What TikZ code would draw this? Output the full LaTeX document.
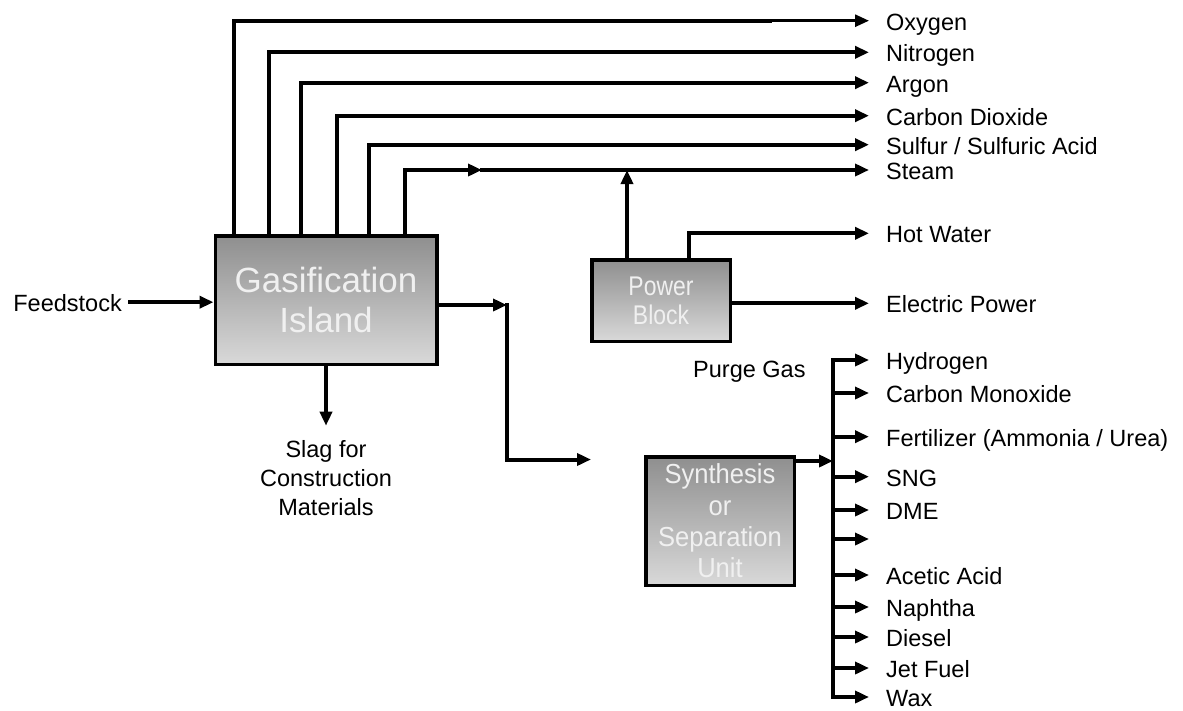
\documentclass[tikz,border=0pt]{standalone}
\usepackage{fontspec}
\setmainfont{Liberation Sans}
\newfontfamily\narrowsans[FakeStretch=0.85]{Liberation Sans}
\newfontfamily\semisans[FakeStretch=0.93]{Liberation Sans}
\usetikzlibrary{arrows.meta,calc}
\begin{document}
\begin{tikzpicture}[x=1pt,y=-1pt,
  line/.style={line width=4pt, line cap=rect, line join=miter},
  flow/.style={line, -{Triangle[length=14pt,width=12pt]}},
  lab/.style={anchor=west, inner sep=0pt, text height=19pt, text depth=0pt, font=\fontsize{23.5}{28}\selectfont},
  unit/.style={draw, line width=3.5pt, top color=black!44, bottom color=black!15, text=white!94!black, align=center, inner sep=0pt},
]
\useasboundingbox (0,0) rectangle (1183,710);

% output labels
\node[lab] (oxy) at (886,20.7) {Oxygen};
\node[lab] (nit) at (886,52.3) {Nitrogen};
\node[lab] (arg) at (886,82.7) {Argon};
\node[lab] (co2) at (886,115.7) {Carbon Dioxide};
\node[lab] (sul) at (886,144.7) {Sulfur / Sulfuric Acid};
\node[lab] (stm) at (886,170) {Steam};
\node[lab] (hw) at (886,233.3) {Hot Water};
\node[lab] (ep) at (886,303.3) {Electric Power};
\node[lab] (h2) at (886,360) {Hydrogen};
\node[lab] (co) at (886,393) {Carbon Monoxide};
\node[lab] (fert) at (886,436.7) {Fertilizer (Ammonia / Urea)};
\node[lab] (sng) at (886,476.7) {SNG};
\node[lab] (dme) at (886,510) {DME};
\coordinate (blank) at (869,539);
\node[lab] (ace) at (886,575) {Acetic Acid};
\node[lab] (nap) at (886,607) {Naphtha};
\node[lab] (die) at (886,637) {Diesel};
\node[lab] (jet) at (886,668) {Jet Fuel};
\node[lab] (wax) at (886,697) {Wax};
\node[lab] (purge) at (693,367.5) {Purge Gas};
\node[lab, anchor=east] (feed) at (122,302.2) {Feedstock};
\node[font=\fontsize{23.5}{29}\selectfont, align=center, inner sep=0pt, anchor=north] (slag) at (326,440) {Slag for\\Construction\\Materials};

% unit boxes
\node[unit, minimum width=221.5pt, minimum height=128.5pt, font=\fontsize{35}{40.6}\selectfont] (gas) at (326,300) {Gasification\\Island};
\node[unit, minimum width=138.5pt, minimum height=81.5pt, font=\narrowsans\fontsize{27}{29}\selectfont] (pb) at (661,300.5) {Power\\Block};
\node[unit, minimum width=148.5pt, minimum height=128.5pt, font=\semisans\fontsize{27.5}{31.3}\selectfont] (syn) at (720,521) {Synthesis\\or\\Separation\\Unit};

% helper coordinates
\coordinate (bus) at (833,0);
\coordinate (jx) at (507,0);
\coordinate (oxbrk) at (770,20.7);
\coordinate (smid) at (482,170);
\coordinate (synin) at (591,459.5);

% gasification island top outputs
\draw[line] ([xshift=20.5pt]gas.north west) |- (oxbrk);
\draw[flow, line width=2.8pt] (oxbrk) -- ([xshift=-17pt]oxy.west);
\draw[flow] ([xshift=55.5pt]gas.north west) |- ([xshift=-17pt]nit.west);
\draw[flow] ([xshift=87.5pt]gas.north west) |- ([xshift=-17pt]arg.west);
\draw[flow] ([xshift=123.5pt]gas.north west) |- ([xshift=-17pt]co2.west);
\draw[flow] ([xshift=155.5pt]gas.north west) |- ([xshift=-17pt]sul.west);
\draw[flow] ([xshift=191.5pt]gas.north west) |- (smid);
\draw[flow] (smid) -- ([xshift=-17pt]stm.west);

% feedstock and slag
\draw[flow] ([xshift=8pt]feed.east) -- (feed.east -| gas.west);
\draw[flow] (gas.south) -- ([yshift=14.3pt]slag.north);

% power block
\coordinate (pbup) at ([xshift=37pt]pb.north west);
\coordinate (pbhw) at ([xshift=98.5pt]pb.north west);
\draw[flow] (pbup) -- (pbup |- stm.west);
\draw[flow] (pbhw) |- ([xshift=-17pt]hw.west);
\draw[flow] (pb.east |- ep.west) -- ([xshift=-17pt]ep.west);

% gas to synthesis
\coordinate (gout) at ([yshift=-5pt]gas.east);
\draw[flow] (gout) -- (gout -| jx);
\draw[flow] (gout -| jx) |- (synin);

% synthesis outputs
\coordinate (sout) at ([yshift=60pt]syn.east);
\draw[flow] (sout) -- (sout -| bus);
\draw[line] (bus |- h2.west) -- (bus |- wax.west);
\foreach \n in {h2,co,fert,sng,dme,ace,nap,die,jet,wax}
  \draw[flow] (bus |- \n.west) -- ([xshift=-17pt]\n.west);
\draw[flow] (bus |- blank) -- (blank);
\end{tikzpicture}
\end{document}
